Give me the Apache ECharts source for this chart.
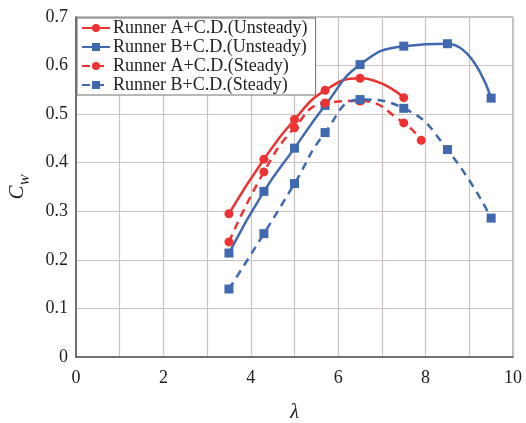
<!DOCTYPE html>
<html><head><meta charset="utf-8">
<script src="https://cdn.jsdelivr.net/npm/echarts@6/dist/echarts.min.js"></script>
<style>html,body{margin:0;padding:0;background:#fff}#c{width:526px;height:423px}</style>
</head><body><div id="c"></div>
<script>
const seriesNames = ['Runner A+C.D.(Unsteady)','Runner B+C.D.(Unsteady)','Runner A+C.D.(Steady)','Runner B+C.D.(Steady)'];
const lambdaAU = [3.5, 4.3, 5.0, 5.7, 6.5, 7.5];
const cwAU = [0.295, 0.407, 0.489, 0.549, 0.574, 0.534];
const lambdaBU = [3.5, 4.3, 5.0, 5.7, 6.5, 7.5, 8.5, 9.5];
const cwBU = [0.214, 0.341, 0.430, 0.518, 0.602, 0.640, 0.645, 0.533];
const lambdaAS = [3.5, 4.3, 5.0, 5.7, 6.5, 7.5, 7.9];
const cwAS = [0.237, 0.381, 0.472, 0.523, 0.527, 0.482, 0.446];
const lambdaBS = [3.5, 4.3, 5.0, 5.7, 6.5, 7.5, 8.5, 9.5];
const cwBS = [0.140, 0.254, 0.357, 0.462, 0.530, 0.512, 0.427, 0.286];
const xTicks = [0, 2, 4, 6, 8, 10];
const yTicks = [0, 0.1, 0.2, 0.3, 0.4, 0.5, 0.6, 0.7];

const RED = '#ec3232', BLUE = '#4069b0';
const font = 'Liberation Serif';
function zip(a, b) { return a.map((v, i) => [v, b[i]]); }
function mk(name, xs, ys, color, sym, dashed) {
  return {
    name, type: 'line', smooth: true, data: zip(xs, ys),
    symbol: sym, symbolSize: 9,
    itemStyle: { color },
    lineStyle: { color, width: 2.5, type: dashed ? [8, 6] : 'solid' },
    z: 3
  };
}
const chart = echarts.init(document.getElementById('c'));
chart.setOption({
  animation: false,
  grid: { left: 76, right: 13, top: 17, bottom: 66, show: true, borderColor: '#808080', borderWidth: 1,
          containLabel: false, outerBoundsMode: 'none' },
  legend: {
    orient: 'vertical', left: 77, top: 18, itemGap: 1, itemWidth: 28, itemHeight: 10,
    backgroundColor: '#fff', borderColor: '#707070', borderWidth: 1, padding: [1, 8, 1, 4],
    textStyle: { fontFamily: font, fontSize: 18, color: '#222', padding: [0, 0, 0, -2] },
    data: seriesNames
  },
  xAxis: {
    type: 'value', min: 0, max: 10, interval: 1,
    name: 'λ', nameLocation: 'middle', nameGap: 46,
    nameTextStyle: { fontFamily: font, fontStyle: 'italic', fontSize: 20, color: '#222' },
    axisLine: { show: true, lineStyle: { color: '#555', width: 1.5 } },
    axisTick: { show: false },
    axisLabel: { fontFamily: font, fontSize: 18, color: '#222', margin: 12,
      formatter: v => xTicks.includes(v) ? String(v) : '' },
    splitLine: { show: true, lineStyle: { color: '#cbc3c3', width: 1.2 } }
  },
  yAxis: {
    type: 'value', min: 0, max: 0.7, interval: 0.1,
    name: '{c|C}{w|W}', nameLocation: 'middle', nameGap: 48, nameRotate: 90,
    nameTextStyle: { fontFamily: font, fontStyle: 'italic', fontSize: 20, color: '#222',
      rich: {
        c: { fontFamily: font, fontStyle: 'italic', fontSize: 21, color: '#222', lineHeight: 24, verticalAlign: 'bottom' },
        w: { fontFamily: font, fontStyle: 'italic', fontSize: 13, color: '#222', lineHeight: 24, verticalAlign: 'bottom', padding: [0, 0, -4, 0] }
      } },
    axisLine: { show: true, lineStyle: { color: '#555', width: 1.5 } },
    axisTick: { show: false },
    axisLabel: { fontFamily: font, fontSize: 18, color: '#222', margin: 8,
      formatter: v => { const t = yTicks.find(y => Math.abs(y - v) < 1e-6); return t === 0 ? '0' : t.toFixed(1); } },
    splitLine: { show: true, lineStyle: { color: '#cbc3c3', width: 1.2 } }
  },
  series: [
    mk(seriesNames[0], lambdaAU, cwAU, RED, 'circle', false),
    mk(seriesNames[1], lambdaBU, cwBU, BLUE, 'rect', false),
    mk(seriesNames[2], lambdaAS, cwAS, RED, 'circle', true),
    mk(seriesNames[3], lambdaBS, cwBS, BLUE, 'rect', true)
  ]
});
</script></body></html>
